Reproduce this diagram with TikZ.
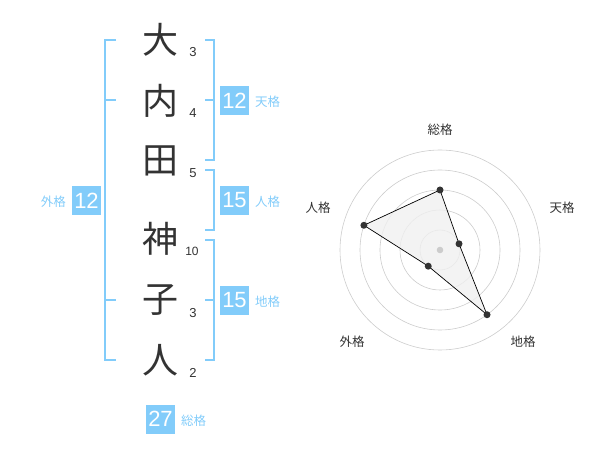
\documentclass[tikz,border=0pt]{standalone}
\usepackage{fontspec}
\setmainfont{Liberation Sans}
\newfontfamily\jpfont{Noto Sans CJK JP}

\definecolor{kakublue}{HTML}{82CCFA}
\definecolor{inkgray}{HTML}{333333}
\definecolor{ringgray}{HTML}{CCCCCC}
\definecolor{areagray}{HTML}{F0F0F0}

\begin{document}
\begin{tikzpicture}[x=1pt, y=-1pt,
    kanji/.style={font=\jpfont\fontsize{36}{36}\selectfont, text=inkgray, inner sep=0pt},
    strokes/.style={font=\fontsize{13}{13}\selectfont, text=inkgray, inner sep=0pt},
    kakubox/.style={fill=kakublue, text=white, minimum width=29pt, minimum height=29pt, inner sep=0pt, font=\fontsize{22}{22}\selectfont},
    kakulabel/.style={font=\jpfont\fontsize{12.5}{12.5}\selectfont, text=kakublue, inner sep=0pt},
    axislabel/.style={font=\jpfont\fontsize{12.5}{12.5}\selectfont, text=inkgray, inner sep=0pt},
    bracket/.style={draw=kakublue, line width=2pt},
    ring/.style={draw=ringgray, line width=0.6pt},
    dot/.style={circle, fill=inkgray, inner sep=0pt, minimum size=7pt}]

    \useasboundingbox (0,0) rectangle (600,470);

    % Name characters with stroke counts
    \node[kanji] (c1) at (160,40) {大};
    \node[kanji] (c2) at (160,101) {内};
    \node[kanji] (c3) at (160,161) {田};
    \node[kanji] (c4) at (160,239) {神};
    \node[kanji] (c5) at (160,300) {子};
    \node[kanji] (c6) at (160,360) {人};

    \node[strokes] (s1) at (193,52) {3};
    \node[strokes] (s2) at (193,113) {4};
    \node[strokes] (s3) at (193,173) {5};
    \node[strokes, font=\fontsize{12}{12}\selectfont] (s4) at (192,251) {10};
    \node[strokes] (s5) at (193,313) {3};
    \node[strokes] (s6) at (193,373) {2};

    % Outer bracket (left)
    \draw[bracket] (116,40) -| (105,360) -- (116,360);
    \draw[bracket] (105,100) -- (116,100);
    \draw[bracket] (105,300) -- (116,300);

    % Right brackets
    \draw[bracket] (205,40) -| (214,160) -- (205,160); % ten
    \draw[bracket] (214,100) -- (205,100);
    \draw[bracket] (205,170) -| (214,230) -- (205,230); % jin
    \draw[bracket] (205,240) -| (214,360) -- (205,360); % chi
    \draw[bracket] (214,300) -- (205,300);

    % Score boxes and labels
    \node[kakubox] (ten) at (234.5,100.5) {12};
    \node[kakulabel, anchor=west] (tenl) at (255,102) {天格};
    \node[kakubox] (jin) at (234.5,200.5) {15};
    \node[kakulabel, anchor=west] (jinl) at (255,202) {人格};
    \node[kakubox] (chi) at (234.5,300.5) {15};
    \node[kakulabel, anchor=west] (chil) at (255,302) {地格};
    \node[kakubox] (gai) at (86.5,200.5) {12};
    \node[kakulabel, anchor=east] (gail) at (66,202) {外格};
    \node[kakubox] (sou) at (160.5,419) {27};
    \node[kakulabel, anchor=west] (soul) at (181,421) {総格};

    % Radar chart
    \coordinate (ctr) at (440,250);
    \foreach \r in {20,40,60,80,100}
        \draw[ring] (ctr) circle[radius=\r pt];

    \path (ctr) ++(-90:60) coordinate (p1);
    \path (ctr) ++(-18:20) coordinate (p2);
    \path (ctr) ++(54:80) coordinate (p3);
    \path (ctr) ++(126:20) coordinate (p4);
    \path (ctr) ++(198:80) coordinate (p5);

    \filldraw[fill=areagray, fill opacity=0.8, draw=black, line width=0.7pt]
        (p1) -- (p2) -- (p3) -- (p4) -- (p5) -- cycle;
    \fill[ringgray] (ctr) circle[radius=3.3pt];
    \foreach \p in {p1,p2,p3,p4,p5}
        \node[dot] at (\p) {};

    \node[axislabel] (a1) at (440,130) {総格};
    \node[axislabel] (a2) at (562,208) {天格};
    \node[axislabel] (a3) at (523,342) {地格};
    \node[axislabel] (a4) at (352,342) {外格};
    \node[axislabel] (a5) at (318,208) {人格};

\end{tikzpicture}
\end{document}
